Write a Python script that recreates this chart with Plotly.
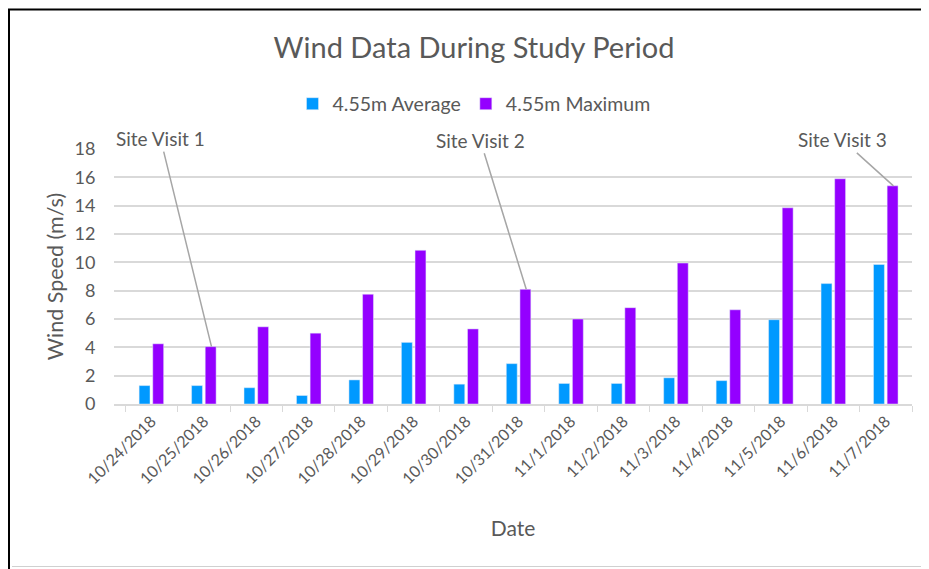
import plotly.graph_objects as go

dates = ["10/24/2018", "10/25/2018", "10/26/2018", "10/27/2018", "10/28/2018",
         "10/29/2018", "10/30/2018", "10/31/2018", "11/1/2018", "11/2/2018",
         "11/3/2018", "11/4/2018", "11/5/2018", "11/6/2018", "11/7/2018"]
avg_speed = [1.3, 1.3, 1.15, 0.6, 1.7, 4.35, 1.4, 2.85, 1.45, 1.45, 1.85, 1.65, 5.95, 8.5, 9.85]
max_speed = [4.25, 4.05, 5.45, 5.0, 7.75, 10.85, 5.3, 8.1, 6.0, 6.8, 9.95, 6.65, 13.85, 15.9, 15.4]

visits = [("Site Visit 1", 1), ("Site Visit 2", 7), ("Site Visit 3", 14)]
visit_offsets = [(-51, -208), (-46, -149), (-51, -46)]

FONT = "Lato, Liberation Sans, Arial, sans-serif"
GREY = "#595959"

W, H = 921, 561
L, R, T, B = 106, 17, 141, 165
pw, ph = W - L - R, H - T - B

def px(x):
    return (x - 8 - L) / pw

def py(y):
    return (H - B - (y - 8)) / ph

fig = go.Figure()
fig.add_trace(go.Bar(x=dates, y=avg_speed, name="4.55m Average", marker_color="#0099FF"))
fig.add_trace(go.Bar(x=dates, y=max_speed, name="4.55m Maximum", marker_color="#9400FF"))

for (label, idx), (ax, ay) in zip(visits, visit_offsets):
    fig.add_annotation(x=idx + 0.146, y=max_speed[idx], xref="x", yref="y",
                       text=label, showarrow=True, arrowhead=0, arrowwidth=1.5,
                       arrowcolor="#a6a6a6", ax=ax, ay=ay,
                       font=dict(family=FONT, size=19, color=GREY))

# chart frame
fig.add_shape(type="line", xref="paper", yref="paper", x0=px(8), x1=px(960), y0=py(9.5), y1=py(9.5),
              line=dict(color="black", width=2))
fig.add_shape(type="line", xref="paper", yref="paper", x0=px(9), x1=px(9), y0=py(9), y1=py(600),
              line=dict(color="black", width=2))
fig.add_shape(type="line", xref="paper", yref="paper", x0=px(12), x1=px(960), y0=py(566.5), y1=py(566.5),
              line=dict(color="#d0d0d0", width=1))

fig.update_layout(
    width=W, height=H,
    margin=dict(l=L, r=R, t=T, b=B, autoexpand=False),
    paper_bgcolor="white", plot_bgcolor="white",
    font=dict(family=FONT, color=GREY),
    title=dict(text="Wind Data During Study Period", x=(474 - 8) / W, xanchor="center",
               y=1 - (48 - 8) / H, yanchor="middle", font=dict(size=29, color=GREY)),
    legend=dict(orientation="h", x=px(474), xanchor="center", y=py(104), yanchor="middle",
                font=dict(size=19.5, color=GREY), itemwidth=30),
    bargap=0.48, bargroupgap=0.2,
    showlegend=True,
)
fig.update_xaxes(
    type="category", tickangle=-45, tickfont=dict(size=16, color=GREY),
    showline=True, linecolor="#d9d9d9", linewidth=1.5, automargin=False,
    ticks="outside", ticklen=6, tickcolor="#d9d9d9", tickson="boundaries",
    title=dict(text="Date", font=dict(size=21, color=GREY), standoff=35),
)
fig.update_yaxes(
    range=[0, 18], dtick=2, showgrid=True, gridcolor="#d9d9d9", gridwidth=1.5,
    zeroline=False, tickfont=dict(size=18, color=GREY),
    ticks="outside", ticklen=14, tickcolor="rgba(0,0,0,0)",
    automargin=False,
    title=dict(text="Wind Speed (m/s)", font=dict(size=21.5, color=GREY), standoff=4),
)

fig.write_html("out.html")
